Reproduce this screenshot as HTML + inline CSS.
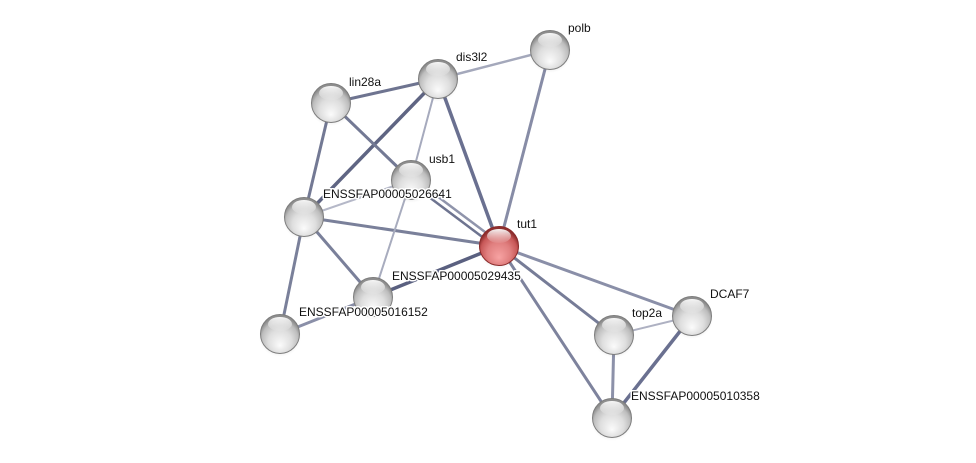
<!DOCTYPE html>
<html><head><meta charset="utf-8"><style>
html,body{margin:0;padding:0;background:#fff;}
svg{display:block;}
text{font-family:"Liberation Sans",Arial,sans-serif;font-size:12px;fill:#111;paint-order:stroke;stroke:#fff;stroke-width:3px;stroke-linejoin:round;}
</style></head><body>
<svg width="976" height="463" viewBox="0 0 976 463" xmlns="http://www.w3.org/2000/svg">
<defs>
<radialGradient id="g" cx="50%" cy="62%" r="55%" fx="50%" fy="80%">
<stop offset="0" stop-color="#fbfbfb"/>
<stop offset="0.55" stop-color="#dedede"/>
<stop offset="0.85" stop-color="#bdbdbd"/>
<stop offset="1" stop-color="#8e8e8e"/>
</radialGradient>
<radialGradient id="r" cx="50%" cy="62%" r="55%" fx="50%" fy="80%">
<stop offset="0" stop-color="#f7a3a3"/>
<stop offset="0.55" stop-color="#e07f7f"/>
<stop offset="0.85" stop-color="#c85858"/>
<stop offset="1" stop-color="#8f2f2f"/>
</radialGradient>
<linearGradient id="h" x1="0" y1="0" x2="0" y2="1">
<stop offset="0" stop-color="#fff" stop-opacity="0.95"/>
<stop offset="1" stop-color="#fff" stop-opacity="0.05"/>
</linearGradient>
<radialGradient id="sh" cx="50%" cy="50%" r="50%">
<stop offset="0" stop-color="#000" stop-opacity="0.25"/>
<stop offset="1" stop-color="#000" stop-opacity="0"/>
</radialGradient>
<g id="sp">
<ellipse cx="0" cy="3" rx="21" ry="20" fill="url(#sh)"/>
<circle r="19.5" fill="url(#g)" stroke="#7d7d7d" stroke-width="1"/>
<ellipse cx="0" cy="-10" rx="12" ry="7" fill="url(#h)"/>
</g>
<g id="spr">
<ellipse cx="0" cy="3" rx="21" ry="20" fill="url(#sh)"/>
<circle r="19.5" fill="url(#r)" stroke="#8a2a2a" stroke-width="1"/>
<ellipse cx="0" cy="-10" rx="12" ry="7" fill="url(#h)"/>
</g>
</defs>

<g stroke-linecap="round" fill="none">
<line x1="331" y1="103" x2="438" y2="79" stroke="#6e7490" stroke-width="3"/>
<line x1="438" y1="79" x2="550" y2="50" stroke="#a4a8bb" stroke-width="2.5"/>
<line x1="550" y1="50" x2="499" y2="246" stroke="#878ca6" stroke-width="3"/>
<line x1="438" y1="79" x2="499" y2="246" stroke="#6a7090" stroke-width="3.5"/>
<line x1="438" y1="79" x2="411" y2="180" stroke="#a6aabd" stroke-width="2"/>
<line x1="438" y1="79" x2="304" y2="217" stroke="#5f6583" stroke-width="3.5"/>
<line x1="331" y1="103" x2="411" y2="180" stroke="#737994" stroke-width="3"/>
<line x1="331" y1="103" x2="304" y2="217" stroke="#737994" stroke-width="3"/>
<line x1="409" y1="182" x2="497" y2="248" stroke="#6e7490" stroke-width="2.5"/>
<line x1="413" y1="178" x2="501" y2="244" stroke="#8f94ab" stroke-width="2.5"/>
<line x1="304" y1="217" x2="411" y2="180" stroke="#b5b8c8" stroke-width="2"/>
<line x1="304" y1="217" x2="499" y2="246" stroke="#7a809a" stroke-width="3"/>
<line x1="304" y1="217" x2="373" y2="297" stroke="#7a809a" stroke-width="3"/>
<line x1="304" y1="217" x2="280" y2="334" stroke="#7a809a" stroke-width="3"/>
<line x1="411" y1="180" x2="373" y2="297" stroke="#a8acbe" stroke-width="2"/>
<line x1="373" y1="297" x2="499" y2="246" stroke="#5a6080" stroke-width="3.5"/>
<line x1="373" y1="297" x2="280" y2="334" stroke="#8a8fa8" stroke-width="3"/>
<line x1="499" y1="246" x2="692" y2="316" stroke="#8a8fa8" stroke-width="3"/>
<line x1="499" y1="246" x2="614" y2="335" stroke="#767c97" stroke-width="3"/>
<line x1="499" y1="246" x2="612" y2="418" stroke="#7e839d" stroke-width="3"/>
<line x1="614" y1="335" x2="692" y2="316" stroke="#aeb1c2" stroke-width="2"/>
<line x1="614" y1="335" x2="612" y2="418" stroke="#8c91a9" stroke-width="3"/>
<line x1="692" y1="316" x2="612" y2="418" stroke="#6a7090" stroke-width="3.5"/>
</g>

<use href="#sp" x="550" y="50"/>
<use href="#sp" x="438" y="79"/>
<use href="#sp" x="331" y="103"/>
<use href="#sp" x="411" y="180"/>
<use href="#sp" x="304" y="217"/>
<use href="#sp" x="373" y="297"/>
<use href="#sp" x="280" y="334"/>
<use href="#sp" x="692" y="316"/>
<use href="#sp" x="614" y="335"/>
<use href="#sp" x="612" y="418"/>
<use href="#spr" x="499" y="246"/>

<text x="568" y="32">polb</text>
<text x="456" y="61">dis3l2</text>
<text x="349" y="86">lin28a</text>
<text x="429" y="163">usb1</text>
<text x="323" y="198">ENSSFAP00005026641</text>
<text x="517" y="228">tut1</text>
<text x="392" y="280">ENSSFAP00005029435</text>
<text x="299" y="316">ENSSFAP00005016152</text>
<text x="710" y="298">DCAF7</text>
<text x="632" y="317">top2a</text>
<text x="631" y="400">ENSSFAP00005010358</text>
</svg>
</body></html>
